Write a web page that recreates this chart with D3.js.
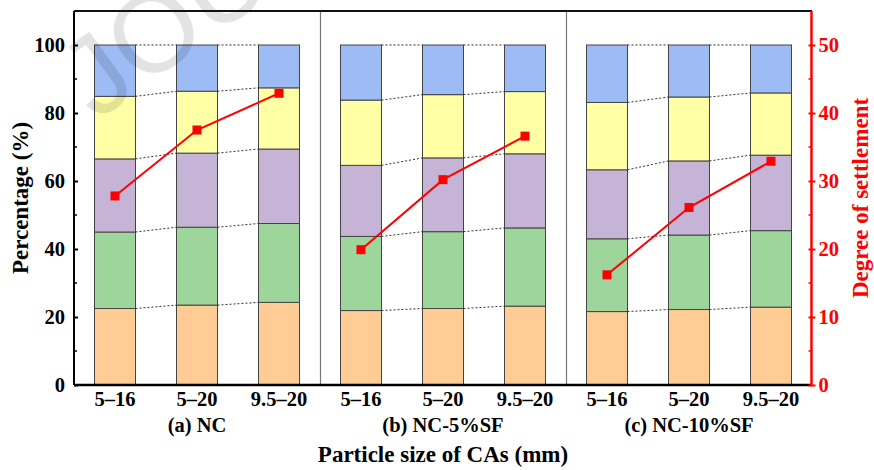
<!DOCTYPE html>
<html>
<head>
<meta charset="utf-8">
<script src="https://cdn.jsdelivr.net/npm/d3@7"></script>
<style>
  body { margin: 0; background: #fff; }
  svg text { font-family: "Liberation Serif", "Times New Roman", serif; font-weight: bold; }
</style>
</head>
<body>
<div class="container"></div>
<script>
// panels and particle sizes
var groups = ['(a) NC', '(b) NC-5%SF', '(c) NC-10%SF']
var sizes = ['5–16', '5–20', '9.5–20']

// layer shares (%), bottom layer first; one entry per bar, panel by panel
var layer1 = [22.5, 23.5, 24.3,  21.9, 22.5, 23.2,  21.6, 22.2, 22.9]
var layer2 = [22.5, 22.9, 23.2,  21.8, 22.6, 23.0,  21.4, 21.9, 22.5]
var layer3 = [21.5, 21.8, 21.9,  20.9, 21.7, 21.8,  20.3, 21.8, 22.2]
var layer4 = [18.4, 18.2, 18.0,  19.2, 18.6, 18.3,  19.8, 18.8, 18.3]
var layer5 = [15.1, 13.6, 12.6,  16.2, 14.6, 13.7,  16.9, 15.3, 14.1]
var layerColors = ['#fecc94', '#9dd59b', '#c5b4d6', '#ffffa6', '#9dbcf5']

// degree of settlement
var settlement = [27.8, 37.5, 42.9,  19.9, 30.2, 36.6,  16.2, 26.1, 32.9]

var leftTicks = [0, 20, 40, 60, 80, 100]
var rightTicks = [0, 10, 20, 30, 40, 50]

var layers = [layer1, layer2, layer3, layer4, layer5]

var bars = []
groups.forEach((g, gi) => {
  sizes.forEach((s, si) => {
    var i = gi * 3 + si
    var cum = 0
    var segs = layers.map((l, li) => {
      var d = {y0: cum, y1: cum + l[i], layer: li}
      cum += l[i]
      return d
    })
    bars.push({group: g, size: s, segs: segs, settle: settlement[i], gi: gi, si: si})
  })
})

var width = 874, height = 470
var svg = d3.select('.container').append('svg')
  .attr('width', width).attr('height', height)

var pLeft = 74, pRight = 812, pTop = 11, pBottom = 385

var x0 = d3.scaleBand().domain(groups).range([pLeft, pRight])
var x1 = d3.scaleBand().domain(sizes).range([0, x0.bandwidth()])
  .paddingInner(0.5).paddingOuter(0.25)
var y = d3.scaleLinear().domain([0, 110]).range([pBottom, pTop])
var yR = d3.scaleLinear().domain([0, 55]).range([pBottom, pTop])

var bx = d => x0(d.group) + x1(d.size)
var bw = x1.bandwidth()

// panel dividers
svg.selectAll('line.divider').data(groups.slice(1)).join('line')
  .attr('class', 'divider')
  .attr('x1', d => x0(d) + 0.5).attr('x2', d => x0(d) + 0.5)
  .attr('y1', pTop).attr('y2', pBottom)
  .attr('stroke', '#777').attr('stroke-width', 1.2)

// stacked bars
var barG = svg.selectAll('g.bar').data(bars).join('g').attr('class', 'bar')
barG.selectAll('rect').data(d => d.segs.map(s => Object.assign({bar: d}, s))).join('rect')
  .attr('x', d => bx(d.bar))
  .attr('width', bw)
  .attr('y', d => y(d.y1))
  .attr('height', d => y(d.y0) - y(d.y1))
  .attr('fill', d => layerColors[d.layer])
  .attr('stroke', '#444').attr('stroke-width', 1)

// dotted connectors between neighbouring bars
var links = []
bars.forEach((b, i) => {
  if (b.si == 2) return
  var n = bars[i + 1]
  b.segs.forEach((s, k) => links.push({a: b, b: n, va: s.y1, vb: n.segs[k].y1}))
})
svg.selectAll('line.link').data(links).join('line')
  .attr('class', 'link')
  .attr('x1', d => bx(d.a) + bw).attr('x2', d => bx(d.b))
  .attr('y1', d => y(d.va)).attr('y2', d => y(d.vb))
  .attr('stroke', '#333').attr('stroke-width', 1)
  .attr('stroke-dasharray', '2,2')

// watermark
svg.append('text')
  .attr('transform', 'translate(96,122) rotate(-36)')
  .attr('fill', '#000').attr('fill-opacity', 0.11)
  .style('font-family', '"Liberation Sans", Arial, sans-serif')
  .style('font-weight', 'normal')
  .style('font-size', '112px')
  .text('JOURNAL')

// frame: top line and bottom axis
svg.append('line').attr('x1', pLeft).attr('x2', pRight).attr('y1', pTop).attr('y2', pTop)
  .attr('stroke', '#111').attr('stroke-width', 2)
svg.append('line').attr('x1', pLeft).attr('x2', pRight).attr('y1', pBottom).attr('y2', pBottom)
  .attr('stroke', '#000').attr('stroke-width', 2.5)

// left axis
var yAxis = svg.append('g').attr('transform', `translate(${pLeft},0)`)
  .call(d3.axisLeft(y).tickValues(leftTicks).tickSizeInner(-4).tickSizeOuter(0).tickPadding(9))
yAxis.select('.domain').attr('stroke-width', 2).attr('d', `M0,${pBottom}V${pTop}`)
yAxis.selectAll('.tick line').attr('stroke-width', 2)
yAxis.selectAll('text').style('font-size', '20.5px').attr('fill', '#000')
svg.append('g').attr('transform', `translate(${pLeft},0)`)
  .selectAll('line').data(d3.range(10, 110, 20)).join('line')
  .attr('x1', 0).attr('x2', 3).attr('y1', d => y(d)).attr('y2', d => y(d))
  .attr('stroke', '#000').attr('stroke-width', 1.5)

// right axis
var yAxisR = svg.append('g').attr('transform', `translate(${pRight - 0.5},0)`)
  .call(d3.axisRight(yR).tickValues(rightTicks).tickSizeInner(4).tickSizeOuter(0).tickPadding(3))
yAxisR.select('.domain').attr('stroke', 'red').attr('stroke-width', 2.5).attr('d', `M0,${pBottom}V${pTop}`)
yAxisR.selectAll('.tick line').attr('stroke', 'red').attr('stroke-width', 2).attr('x1', -3)
yAxisR.selectAll('text').style('font-size', '20.5px').attr('fill', 'red')
svg.append('g').attr('transform', `translate(${pRight - 0.5},0)`)
  .selectAll('line').data(d3.range(5, 55, 10)).join('line')
  .attr('x1', -3).attr('x2', 0).attr('y1', d => yR(d)).attr('y2', d => yR(d))
  .attr('stroke', 'red').attr('stroke-width', 1.5)

// settlement lines
var line = d3.line().x(d => bx(d) + bw / 2).y(d => yR(d.settle))
groups.forEach(g => {
  var pts = bars.filter(d => d.group == g)
  svg.append('path').datum(pts).attr('d', line)
    .attr('fill', 'none').attr('stroke', 'red').attr('stroke-width', 2)
  svg.selectAll(null).data(pts).join('rect')
    .attr('x', d => bx(d) + bw / 2 - 4.5).attr('y', d => yR(d.settle) - 4.5)
    .attr('width', 9).attr('height', 9).attr('fill', 'red')
})

// x labels
svg.selectAll('text.xtick').data(bars).join('text').attr('class', 'xtick')
  .attr('x', d => bx(d) + bw / 2).attr('y', 406)
  .attr('text-anchor', 'middle').style('font-size', '20.5px')
  .text(d => d.size)
svg.selectAll('text.panel').data(groups).join('text').attr('class', 'panel')
  .attr('x', d => x0(d) + x0.bandwidth() / 2).attr('y', 432)
  .attr('text-anchor', 'middle').style('font-size', '20.5px')
  .text(d => d)
svg.append('text').attr('x', (pLeft + pRight) / 2).attr('y', 462)
  .attr('text-anchor', 'middle').style('font-size', '23px')
  .text('Particle size of CAs (mm)')

// axis titles
svg.append('text').attr('transform', `translate(28,${(pTop + pBottom) / 2}) rotate(-90)`)
  .attr('text-anchor', 'middle').style('font-size', '23px')
  .text('Percentage (%)')
svg.append('text').attr('transform', `translate(868,${(pTop + pBottom) / 2}) rotate(-90)`)
  .attr('text-anchor', 'middle').style('font-size', '23px').attr('fill', 'red')
  .text('Degree of settlement')
</script>
</body>
</html>
